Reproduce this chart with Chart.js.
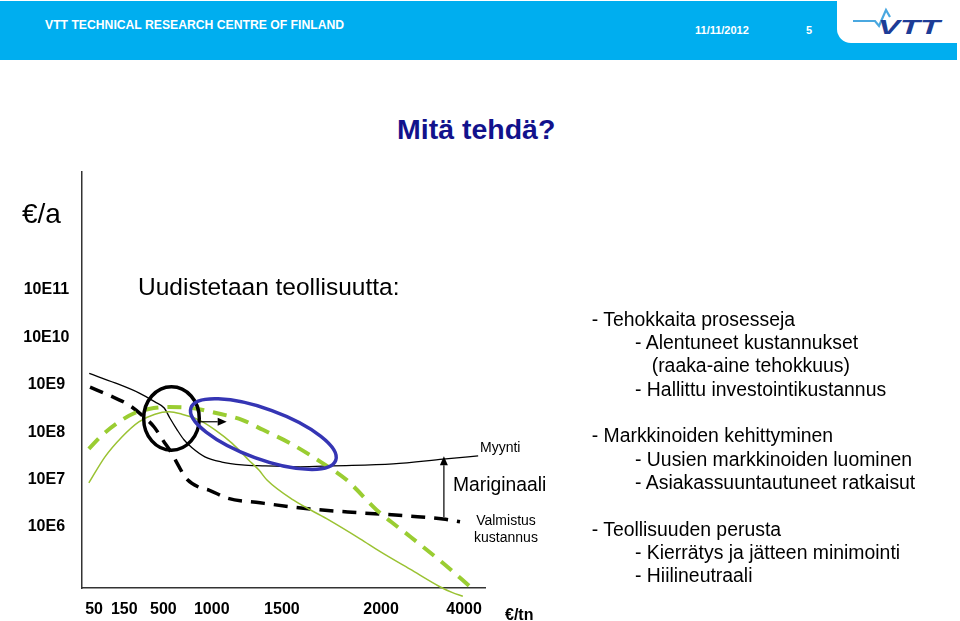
<!DOCTYPE html>
<html>
<head>
<meta charset="utf-8">
<script src="https://cdn.jsdelivr.net/npm/chart.js@4"></script>
<style>
  html, body { margin:0; padding:0; background:#fff; }
  body { width:960px; height:621px; position:relative; overflow:hidden;
         font-family:"Liberation Sans", Arial, sans-serif; color:#000; }
  #c { position:absolute; left:0; top:0; }
  .t { position:absolute; white-space:pre; line-height:1.15; }
  .bar { position:absolute; left:0; top:1px; width:957px; height:59px; background:#00aeef; }
  .tab { position:absolute; left:837px; top:0; width:123px; height:43px; background:#fff;
         border-bottom-left-radius:14px; }
  .hd { position:absolute; color:#fff; font-weight:bold; white-space:pre; line-height:1.15; }
  .rt { position:absolute; font-size:19.4px; line-height:1.15; white-space:pre; }
</style>
</head>
<body>
<div class="bar"></div>
<div class="tab"></div>
<div class="hd" style="left:45px;top:18px;font-size:12.2px">VTT TECHNICAL RESEARCH CENTRE OF FINLAND</div>
<div class="hd" style="left:695px;top:24px;font-size:11px">11/11/2012</div>
<div class="hd" style="left:806px;top:24px;font-size:11px">5</div>
<svg style="position:absolute;left:845px;top:4px" width="110" height="36">
  <path d="M8,17 L30,17 L34,22 L41,6 L45,13" fill="none" stroke="#4aa8e0" stroke-width="2.2"/>
  <text x="33" y="30" font-family="Liberation Sans, Arial" font-weight="bold" font-style="italic"
        font-size="20" fill="#1d3c96" textLength="62" lengthAdjust="spacingAndGlyphs">VTT</text>
</svg>

<div class="t" style="left:397px;top:113px;font-size:28.5px;font-weight:bold;color:#12128c">Mitä tehdä?</div>

<canvas id="c" width="960" height="621"></canvas>

<div class="t" style="left:22px;top:197.5px;font-size:28px">€/a</div>
<div class="t" style="left:138px;top:272.5px;font-size:24.5px">Uudistetaan teollisuutta:</div>
<div class="t" style="left:480px;top:439px;font-size:14px">Myynti</div>
<div class="t" style="left:453px;top:474px;font-size:19.3px">Mariginaali</div>
<div class="t" style="left:466px;top:512px;width:80px;text-align:center;font-size:14px;line-height:16.7px">Valmistus
kustannus</div>
<div class="t" style="left:505px;top:606px;font-size:16px;font-weight:bold">€/tn</div>

<div class="rt" style="left:591.7px;top:307.6px">- Tehokkaita prosesseja</div>
<div class="rt" style="left:635px;top:330.9px">- Alentuneet kustannukset</div>
<div class="rt" style="left:651.7px;top:354.3px">(raaka-aine tehokkuus)</div>
<div class="rt" style="left:635px;top:377.6px">- Hallittu investointikustannus</div>
<div class="rt" style="left:591.7px;top:424.3px">- Markkinoiden kehittyminen</div>
<div class="rt" style="left:635px;top:447.6px">- Uusien markkinoiden luominen</div>
<div class="rt" style="left:635px;top:470.9px">- Asiakassuuntautuneet ratkaisut</div>
<div class="rt" style="left:591.7px;top:517.6px">- Teollisuuden perusta</div>
<div class="rt" style="left:635px;top:540.9px">- Kierrätys ja jätteen minimointi</div>
<div class="rt" style="left:635px;top:564.3px">- Hiilineutraali</div>

<script>
/* ---- data: x in axis units (0..100), y as exponent of €/a ------------ */
const X_TICK_POS    = [3.0, 10.5, 20.2, 32.2, 49.6, 74.2, 94.8];
const X_TICK_LABELS = ["50","150","500","1000","1500","2000","4000"];
const Y_TICKS       = [6, 7, 8, 9, 10, 11];

// Myynti (sales), thin black
const MYYNTI_X = [1.8, 8.2, 14.1, 18.1, 20.4, 21.8, 23.6, 25.3, 27.3, 30.5, 34.7, 39.7, 44.7, 54.1, 62.3, 77.2, 89.6, 98.3];
const MYYNTI_Y = [9.24, 9.04, 8.83, 8.64, 8.51, 8.30, 8.05, 7.84, 7.67, 7.48, 7.37, 7.31, 7.29, 7.27, 7.29, 7.33, 7.43, 7.50];

// Valmistuskustannus (production cost), black dashed
const KUST_X = [2.0, 6.7, 11.7, 15.4, 17.9, 20.4, 21.8, 24.1, 25.6, 29.0, 31.5, 36.0, 44.2, 56.6, 69.0, 81.4, 89.6, 93.8];
const KUST_Y = [8.95, 8.78, 8.57, 8.32, 8.11, 7.79, 7.62, 7.27, 7.05, 6.84, 6.78, 6.61, 6.51, 6.38, 6.30, 6.23, 6.17, 6.11];

// renewed industry, green dashed
const UUSI_X = [1.7, 5.0, 9.2, 13.2, 16.6, 21.6, 27.3, 33.0, 39.7, 44.9, 51.6, 59.1, 65.7, 73.1, 81.4, 89.7, 96.7];
const UUSI_Y = [7.65, 7.94, 8.22, 8.41, 8.49, 8.53, 8.51, 8.41, 8.26, 8.05, 7.77, 7.38, 6.99, 6.36, 5.80, 5.23, 4.71];

// current industry, thin green
const NYKY_X = [1.7, 5.7, 9.9, 14.1, 18.1, 21.6, 24.8, 29.0, 33.0, 37.2, 41.4, 43.9, 45.9, 52.4, 60.8, 69.0, 74.0, 81.4, 88.8, 91.8, 94.5];
const NYKY_Y = [6.93, 7.48, 7.90, 8.22, 8.38, 8.43, 8.38, 8.26, 8.05, 7.77, 7.41, 7.20, 6.99, 6.57, 6.17, 5.75, 5.48, 5.11, 4.74, 4.62, 4.54];

/* ---- annotations (data units + pixel radii) ------------------------ */
const CIRCLE_AT  = [22.2, 8.29], CIRCLE_R  = [27.8, 31.7];
const ELLIPSE_AT = [45.0, 7.96], ELLIPSE_R = [77, 25], ELLIPSE_ROT = 20;
const SHIFT_ARROW  = [[29.3, 8.22], [35.9, 8.22]];
const MARGIN_ARROW = [[89.8, 6.21], [89.8, 7.49]];

const FONT = "Liberation Sans, Arial, sans-serif";
const pts = (xs, ys) => xs.map((x, i) => ({ x, y: ys[i] }));

function arrow(ctx, x1, y1, x2, y2){
  const a = Math.atan2(y2 - y1, x2 - x1), L = 9, W = 4;
  ctx.beginPath(); ctx.moveTo(x1, y1); ctx.lineTo(x2 - L*Math.cos(a), y2 - L*Math.sin(a)); ctx.stroke();
  ctx.beginPath();
  ctx.moveTo(x2, y2);
  ctx.lineTo(x2 - L*Math.cos(a) + W*Math.sin(a), y2 - L*Math.sin(a) - W*Math.cos(a));
  ctx.lineTo(x2 - L*Math.cos(a) - W*Math.sin(a), y2 - L*Math.sin(a) + W*Math.cos(a));
  ctx.closePath(); ctx.fill();
}

const annotate = {
  id: "annotate",
  afterDatasetsDraw(chart){
    const { ctx, scales: { x, y } } = chart;
    ctx.save();
    ctx.lineWidth = 3.5;
    ctx.strokeStyle = "#000";
    ctx.beginPath();
    ctx.ellipse(x.getPixelForValue(CIRCLE_AT[0]), y.getPixelForValue(CIRCLE_AT[1]),
                CIRCLE_R[0], CIRCLE_R[1], 0, 0, 2*Math.PI);
    ctx.stroke();

    ctx.strokeStyle = "#3535b4";
    ctx.beginPath();
    ctx.ellipse(x.getPixelForValue(ELLIPSE_AT[0]), y.getPixelForValue(ELLIPSE_AT[1]),
                ELLIPSE_R[0], ELLIPSE_R[1], ELLIPSE_ROT*Math.PI/180, 0, 2*Math.PI);
    ctx.stroke();

    ctx.lineWidth = 1.2; ctx.strokeStyle = "#000"; ctx.fillStyle = "#000";
    for (const [p, q] of [SHIFT_ARROW, MARGIN_ARROW]) {
      arrow(ctx, x.getPixelForValue(p[0]), y.getPixelForValue(p[1]),
                 x.getPixelForValue(q[0]), y.getPixelForValue(q[1]));
    }
    ctx.restore();
  }
};

const line = (data, color, width, dash) => ({
  data, borderColor: color, borderWidth: width, borderDash: dash || [],
  pointRadius: 0, fill: false, cubicInterpolationMode: "monotone", clip: false
});

new Chart(document.getElementById("c"), {
  type: "line",
  data: { datasets: [
    line(pts(NYKY_X, NYKY_Y), "#9ac232", 1.5),
    line(pts(UUSI_X, UUSI_Y), "#9acd32", 4, [14, 9]),
    line(pts(KUST_X, KUST_Y), "#000", 3.5, [14, 9]),
    line(pts(MYYNTI_X, MYYNTI_Y), "#000", 1.3)
  ]},
  options: {
    responsive: false, animation: false,
    layout: { padding: { left: 0, top: 172, right: 475, bottom: 0 } },
    plugins: { legend: { display: false }, tooltip: { enabled: false } },
    scales: {
      x: {
        type: "linear", min: 0, max: 100,
        afterBuildTicks: s => { s.ticks = X_TICK_POS.map(v => ({ value: v })); },
        afterFit: s => { s.height = 33; },
        grid: { drawOnChartArea: false, drawTicks: false },
        border: { color: "#333", width: 1.5 },
        ticks: { autoSkip: false, maxRotation: 0, padding: 12, color: "#000",
                 font: { family: FONT, size: 16, weight: "bold" },
                 callback: (v, i) => X_TICK_LABELS[i] }
      },
      y: {
        type: "linear", min: 4.713, max: 13.489,
        afterBuildTicks: s => { s.ticks = Y_TICKS.map(v => ({ value: v })); },
        afterFit: s => { s.width = 82; },
        grid: { drawOnChartArea: false, drawTicks: false },
        border: { color: "#333", width: 1.5 },
        ticks: { crossAlign: "center", padding: 12.5, color: "#000",
                 font: { family: FONT, size: 16, weight: "bold" },
                 callback: v => "10E" + v }
      }
    }
  },
  plugins: [annotate]
});
</script>
</body>
</html>
